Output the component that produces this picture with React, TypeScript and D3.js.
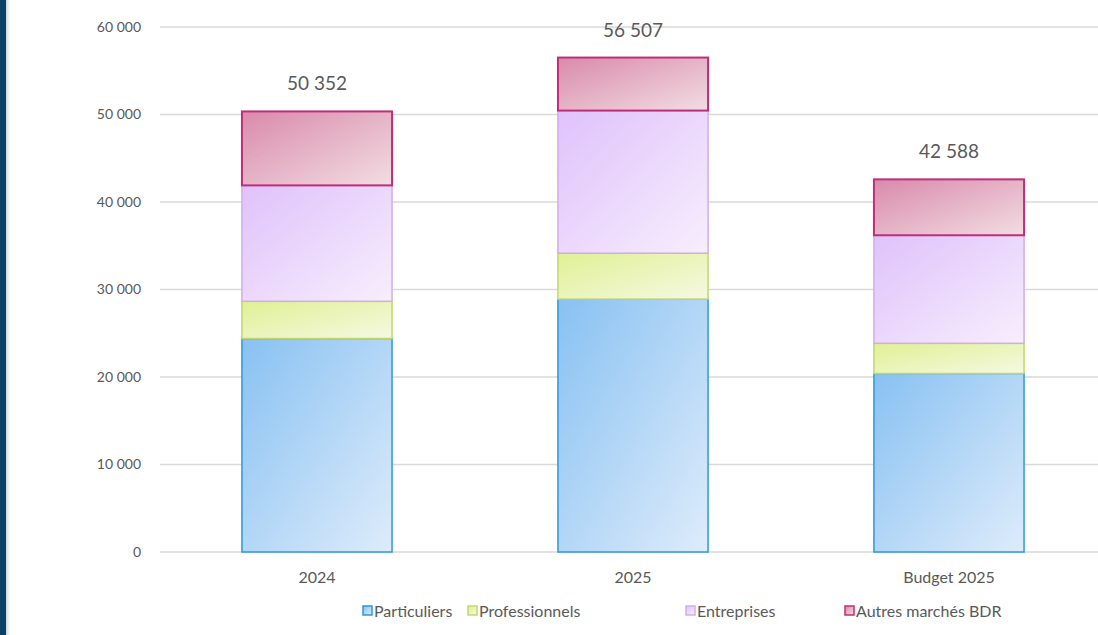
import React from "react";
import * as d3 from "d3";

const categories = ["2024", "2025", "Budget 2025"];
const seriesNames = ["Particuliers", "Professionnels", "Entreprises", "Autres marchés BDR"];
const particuliers = [24400, 28900, 20400];
const professionnels = [4250, 5250, 3450];
const entreprises = [13250, 16300, 12350];
const autres = [8452, 6057, 6388];
const totals = [50352, 56507, 42588];
const yTicks = [0, 10000, 20000, 30000, 40000, 50000, 60000];

const W = 1098;
const H = 635;

const styles = [
  { from: "#88c1f2", to: "#deecfb", stroke: "#2c9ad4", sw: 1.5 },
  { from: "#e0f095", to: "#f5f9e2", stroke: "#c3d66c", sw: 1.5 },
  { from: "#dfc2fb", to: "#f7eefd", stroke: "#d3ade8", sw: 1.5 },
  { from: "#d98aab", to: "#f2dde2", stroke: "#bf2f79", sw: 2 },
];

const fmt = (v: number) => d3.format(",")(v).replace(/,/g, " ");

export default function App() {
  const x = d3
    .scaleBand<string>()
    .domain(categories)
    .range([159, 1107])
    .paddingInner(0.525)
    .paddingOuter(0.2625);
  const y = d3.scaleLinear().domain([0, 60000]).range([552, 27]);

  const rows = categories.map((c, i) => ({
    cat: c,
    Particuliers: particuliers[i],
    Professionnels: professionnels[i],
    Entreprises: entreprises[i],
    "Autres marchés BDR": autres[i],
  }));
  const stacked = d3.stack<any>().keys(seriesNames)(rows);

  const font = "Lato, 'Open Sans', sans-serif";
  const legendX = [363, 468, 686, 845];

  return (
    <div style={{ position: "fixed", left: 0, top: 0, width: W, height: H, background: "#fff" }}>
      <svg width={W} height={H} style={{ display: "block" }}>
        <defs>
          {styles.map((s, i) => (
            <linearGradient key={i} id={`g${i}`} x1="0" y1="0" x2="1" y2="1">
              <stop offset="0%" stopColor={s.from} />
              <stop offset="100%" stopColor={s.to} />
            </linearGradient>
          ))}
          <linearGradient id="shadow" x1="0" x2="1" y1="0" y2="0">
            <stop offset="0%" stopColor="#cfd4d8" />
            <stop offset="100%" stopColor="#ffffff" stopOpacity={0} />
          </linearGradient>
        </defs>
        <rect x={0} y={0} width={W} height={H} fill="#fff" />
        <rect x={6} y={0} width={6} height={H} fill="url(#shadow)" />
        <rect x={0} y={0} width={6} height={H} fill="#0e4166" />

        {yTicks.map((t) => (
          <g key={t}>
            <line x1={160} x2={W} y1={y(t)} y2={y(t)} stroke="#d9d9d9" strokeWidth={1.5} />
            <text
              x={141}
              y={y(t)}
              dy="0.35em"
              textAnchor="end"
              fontFamily={font}
              fontSize={14}
              fill="#595959"
            >
              {fmt(t)}
            </text>
          </g>
        ))}

        {stacked.map((layer, si) => (
          <g key={layer.key}>
            {layer.map((d, i) => {
              const x0 = x(categories[i])!;
              return (
                <rect
                  key={i}
                  x={x0}
                  y={y(d[1])}
                  width={x.bandwidth()}
                  height={y(d[0]) - y(d[1])}
                  fill={`url(#g${si})`}
                  stroke={styles[si].stroke}
                  strokeWidth={styles[si].sw}
                />
              );
            })}
          </g>
        ))}

        {categories.map((c, i) => (
          <text
            key={c}
            x={x(c)! + x.bandwidth() / 2}
            y={y(totals[i]) - 21}
            textAnchor="middle"
            fontFamily={font}
            fontSize={19}
            fill="#595959"
          >
            {fmt(totals[i])}
          </text>
        ))}

        {categories.map((c) => (
          <text
            key={c}
            x={x(c)! + x.bandwidth() / 2}
            y={583}
            textAnchor="middle"
            fontFamily={font}
            fontSize={16}
            fill="#595959"
          >
            {c}
          </text>
        ))}

        {seriesNames.map((s, i) => (
          <g key={s} transform={`translate(${legendX[i]},611)`}>
            <rect
              x={0}
              y={-5}
              width={9}
              height={9}
              fill={`url(#g${i})`}
              stroke={styles[i].stroke}
              strokeWidth={1.5}
            />
            <text x={11} y={0} dy="0.35em" fontFamily={font} fontSize={16} fill="#595959">
              {s}
            </text>
          </g>
        ))}
      </svg>
    </div>
  );
}
